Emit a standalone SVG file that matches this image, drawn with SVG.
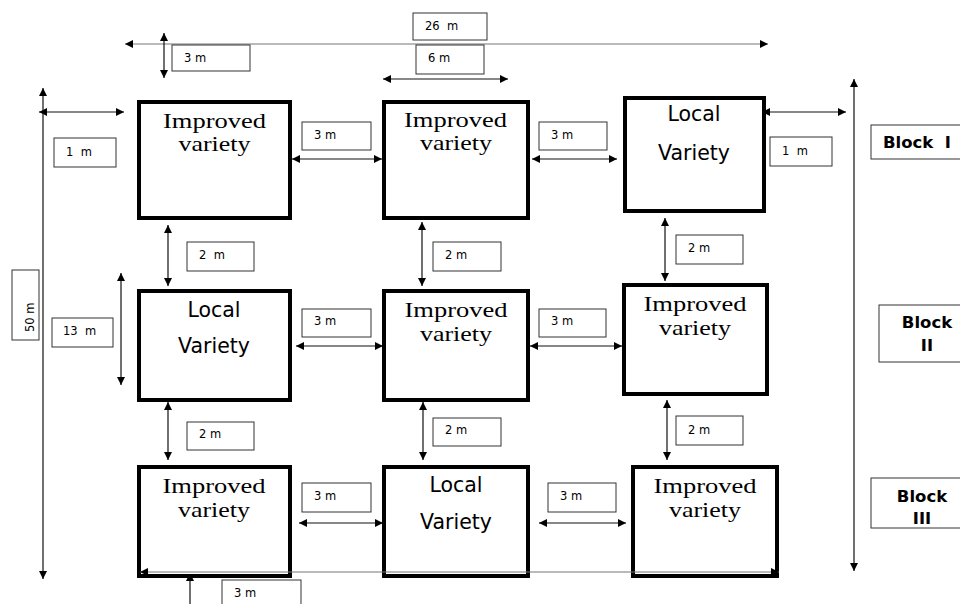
<svg xmlns="http://www.w3.org/2000/svg" width="960" height="604" viewBox="0 0 960 604">
<defs>
<marker id="ar" viewBox="0 0 10 10" refX="10" refY="5" markerWidth="9" markerHeight="8" markerUnits="userSpaceOnUse" orient="auto-start-reverse">
<path d="M0,0 L10,5 L0,10 Z" fill="#000"/>
</marker>
</defs>
<style>
.plot{fill:#fff;stroke:#000;stroke-width:4}
.lbl{fill:#fff;stroke:#333;stroke-width:1}
.lt{font-family:"DejaVu Sans",Verdana,sans-serif;font-size:11.5px;fill:#000}
.imp{font-family:"Liberation Serif","Times New Roman",serif;font-size:22px;fill:#000;text-anchor:middle}
.loc{font-family:"DejaVu Sans",Verdana,sans-serif;font-size:20.5px;fill:#000;text-anchor:middle}
.blk{font-family:"DejaVu Sans",Verdana,sans-serif;font-size:16.5px;font-weight:bold;fill:#000}
.c{stroke:#111;stroke-width:1.2;fill:none;marker-start:url(#ar);marker-end:url(#ar)}
.g{stroke:#777;stroke-width:1.2;fill:none;marker-start:url(#ar);marker-end:url(#ar)}
.up{stroke:#111;stroke-width:1.2;fill:none;marker-start:url(#ar)}
</style>
<rect width="960" height="604" fill="#fff"/>
<g id="connectors">
<line class="g" x1="125" y1="44" x2="768" y2="44"/>
<line class="c" x1="164" y1="33" x2="164" y2="78"/>
<line class="c" x1="383" y1="79" x2="508" y2="79"/>
<line class="c" x1="43" y1="88" x2="43" y2="579"/>
<line class="c" x1="39" y1="112" x2="124" y2="112"/>
<line class="c" x1="762" y1="112" x2="846" y2="112"/>
<line class="c" x1="854" y1="79" x2="854" y2="571"/>
<line class="c" x1="292" y1="159" x2="382" y2="159"/>
<line class="c" x1="532" y1="159" x2="617" y2="159"/>
<line class="c" x1="296" y1="346" x2="383" y2="346"/>
<line class="c" x1="530" y1="346" x2="622" y2="346"/>
<line class="c" x1="299" y1="523" x2="383" y2="523"/>
<line class="c" x1="539" y1="523" x2="626" y2="523"/>
<line class="c" x1="168" y1="225" x2="168" y2="286"/>
<line class="c" x1="422" y1="222" x2="422" y2="286"/>
<line class="c" x1="665" y1="218" x2="665" y2="281"/>
<line class="c" x1="168" y1="402" x2="168" y2="460"/>
<line class="c" x1="423" y1="402" x2="423" y2="460"/>
<line class="c" x1="667" y1="400" x2="667" y2="460"/>
<line class="c" x1="121" y1="273" x2="121" y2="385"/>
<line class="up" x1="190" y1="573" x2="190" y2="610"/>
</g>
<g id="plot-a1"><rect class="plot" x="139" y="102" width="151" height="116"/><text class="imp" x="214.5" y="128" textLength="103" lengthAdjust="spacingAndGlyphs">Improved</text><text class="imp" x="214.5" y="151" textLength="72" lengthAdjust="spacingAndGlyphs">variety</text></g>
<g id="plot-a2"><rect class="plot" x="384" y="102" width="144" height="116"/><text class="imp" x="455.5" y="127" textLength="103" lengthAdjust="spacingAndGlyphs">Improved</text><text class="imp" x="456" y="150" textLength="72" lengthAdjust="spacingAndGlyphs">variety</text></g>
<g id="plot-a3"><rect class="plot" x="625" y="98" width="139" height="113"/><text class="loc" x="694" y="121">Local</text><text class="loc" x="694" y="160">Variety</text></g>
<g id="plot-b1"><rect class="plot" x="139" y="291" width="151" height="109"/><text class="loc" x="214" y="317">Local</text><text class="loc" x="214" y="353">Variety</text></g>
<g id="plot-b2"><rect class="plot" x="384" y="291" width="144" height="109"/><text class="imp" x="456" y="317" textLength="103" lengthAdjust="spacingAndGlyphs">Improved</text><text class="imp" x="456" y="341" textLength="72" lengthAdjust="spacingAndGlyphs">variety</text></g>
<g id="plot-b3"><rect class="plot" x="624" y="285" width="143" height="109"/><text class="imp" x="695" y="311" textLength="103" lengthAdjust="spacingAndGlyphs">Improved</text><text class="imp" x="695" y="335" textLength="72" lengthAdjust="spacingAndGlyphs">variety</text></g>
<g id="plot-c1"><rect class="plot" x="139" y="467" width="151" height="109"/><text class="imp" x="214" y="493" textLength="103" lengthAdjust="spacingAndGlyphs">Improved</text><text class="imp" x="214" y="517" textLength="72" lengthAdjust="spacingAndGlyphs">variety</text></g>
<g id="plot-c2"><rect class="plot" x="384" y="467" width="144" height="109"/><text class="loc" x="456" y="492">Local</text><text class="loc" x="456" y="529">Variety</text></g>
<g id="plot-c3"><rect class="plot" x="633" y="467" width="144" height="109"/><text class="imp" x="705" y="493" textLength="103" lengthAdjust="spacingAndGlyphs">Improved</text><text class="imp" x="705" y="517" textLength="72" lengthAdjust="spacingAndGlyphs">variety</text></g>
<line x1="140" y1="572" x2="779" y2="572" class="g"/>
<g id="lbl-26m"><rect class="lbl" x="413" y="13" width="74" height="27"/><text class="lt" x="425" y="29.5" xml:space="preserve">26  m</text></g>
<g id="lbl-top3m"><rect class="lbl" x="172" y="45" width="78" height="26"/><text class="lt" x="184" y="62">3 m</text></g>
<g id="lbl-6m"><rect class="lbl" x="416" y="45" width="68" height="29"/><text class="lt" x="428" y="62">6 m</text></g>
<g id="lbl-1m-left"><rect class="lbl" x="54" y="138" width="62" height="29"/><text class="lt" x="66" y="156" xml:space="preserve">1  m</text></g>
<g id="lbl-1m-right"><rect class="lbl" x="770" y="137" width="62" height="29"/><text class="lt" x="782" y="155" xml:space="preserve">1  m</text></g>
<g id="lbl-r1-3m-a"><rect class="lbl" x="302" y="122" width="69" height="28"/><text class="lt" x="314" y="139">3 m</text></g>
<g id="lbl-r1-3m-b"><rect class="lbl" x="539" y="122" width="68" height="28"/><text class="lt" x="551" y="139">3 m</text></g>
<g id="lbl-2m-a1"><rect class="lbl" x="187" y="242" width="67" height="29"/><text class="lt" x="199" y="259" xml:space="preserve">2  m</text></g>
<g id="lbl-2m-a2"><rect class="lbl" x="433" y="242" width="68" height="29"/><text class="lt" x="445" y="259">2 m</text></g>
<g id="lbl-2m-a3"><rect class="lbl" x="676" y="235" width="67" height="29"/><text class="lt" x="688" y="252">2 m</text></g>
<g id="lbl-13m"><rect class="lbl" x="52" y="318" width="61" height="29"/><text class="lt" x="63" y="335" xml:space="preserve">13  m</text></g>
<g id="lbl-50m"><rect class="lbl" x="12" y="270" width="27" height="70"/><text class="lt" transform="translate(34,332) rotate(-90)">50 m</text></g>
<g id="lbl-r2-3m-a"><rect class="lbl" x="302" y="309" width="69" height="28"/><text class="lt" x="314" y="325">3 m</text></g>
<g id="lbl-r2-3m-b"><rect class="lbl" x="539" y="309" width="67" height="28"/><text class="lt" x="551" y="325">3 m</text></g>
<g id="lbl-2m-b1"><rect class="lbl" x="187" y="422" width="67" height="28"/><text class="lt" x="199" y="438">2 m</text></g>
<g id="lbl-2m-b2"><rect class="lbl" x="433" y="418" width="68" height="28"/><text class="lt" x="445" y="434">2 m</text></g>
<g id="lbl-2m-b3"><rect class="lbl" x="676" y="416" width="67" height="29"/><text class="lt" x="688" y="434">2 m</text></g>
<g id="lbl-r3-3m-a"><rect class="lbl" x="302" y="483" width="69" height="29"/><text class="lt" x="314" y="500">3 m</text></g>
<g id="lbl-r3-3m-b"><rect class="lbl" x="548" y="483" width="68" height="29"/><text class="lt" x="560" y="500">3 m</text></g>
<g id="lbl-bottom-3m"><rect class="lbl" x="222" y="580" width="79" height="30"/><text class="lt" x="234" y="597">3 m</text></g>
<g id="block-1"><rect class="lbl" x="871" y="125" width="95" height="34"/><text class="blk" x="883" y="148" xml:space="preserve">Block  I</text></g>
<g id="block-2"><rect class="lbl" x="879" y="305" width="87" height="57"/><text class="blk" x="927" y="328" text-anchor="middle">Block</text><text class="blk" x="927" y="351" text-anchor="middle">II</text></g>
<g id="block-3"><rect class="lbl" x="871" y="478" width="95" height="50"/><text class="blk" x="922" y="502" text-anchor="middle">Block</text><text class="blk" x="922" y="524" text-anchor="middle">III</text></g>
</svg>
